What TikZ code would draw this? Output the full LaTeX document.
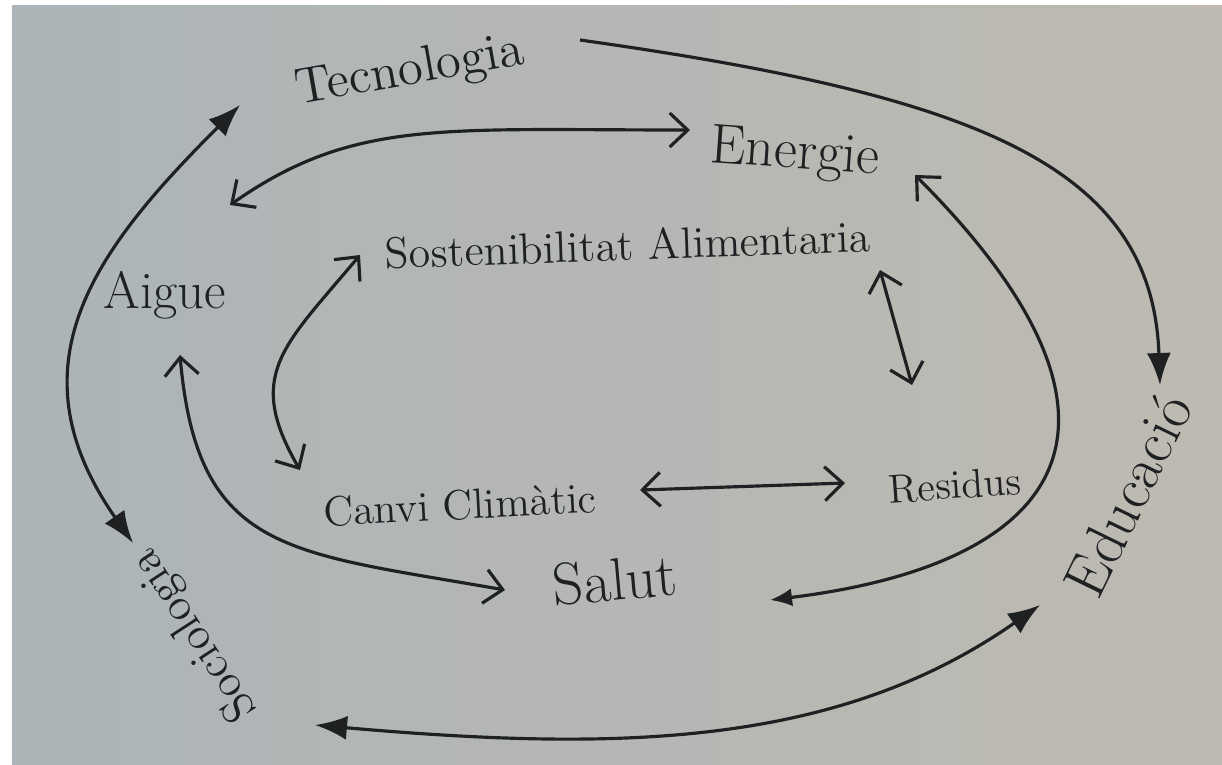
\documentclass[tikz,border=0pt]{standalone}
\usepackage{xcolor}
\usetikzlibrary{arrows.meta,positioning}
\definecolor{ink}{RGB}{30,32,34}
\definecolor{paperL}{RGB}{172,180,184}
\definecolor{paperM}{RGB}{204,206,207}
\definecolor{paperR}{RGB}{190,186,177}

\begin{document}
\begin{tikzpicture}[
  word/.style={text=ink,inner sep=2pt},
  ring/.style={draw=ink,line width=0.9pt},
  big/.style={ring,arrows={Latex[length=3.2mm,width=2.4mm]-Latex[length=3.2mm,width=2.4mm]}},
  small/.style={ring,arrows={Straight Barb[length=1.8mm,width=3.4mm]-Straight Barb[length=1.8mm,width=3.4mm]}}
]
\useasboundingbox (0,0) rectangle (12.22,-7.64);
% paper
\fill[white] (0,0) rectangle (12.22,-7.64);
\shade[left color=paperL,middle color=paperM,right color=paperR] (0.12,-0.05) rectangle (12.22,-7.64);

% words
\node[word,font=\fontsize{14.5}{16}\selectfont,rotate=10] (tecno) at (4.1,-0.72) {Tecnologia};
\node[word,font=\fontsize{16}{18}\selectfont,rotate=-4] (energie) at (7.95,-1.55) {Energie};
\node[word,font=\fontsize{12.5}{14}\selectfont,rotate=2] (sosten) at (6.28,-2.45) {Sostenibilitat Alimentaria};
\node[word,font=\fontsize{15}{17}\selectfont] (aigue) at (1.65,-2.95) {Aigue};
\node[word,font=\fontsize{12}{14}\selectfont,rotate=3] (canvi) at (4.6,-5.05) {Canvi Climàtic};
\node[word,font=\fontsize{11.5}{13}\selectfont,rotate=4] (residus) at (9.55,-4.85) {Residus};
\node[word,font=\fontsize{17}{19}\selectfont,rotate=5] (salut) at (6.15,-5.8) {Salut};
\node[word,font=\fontsize{17}{19}\selectfont,rotate=64] (educ) at (11.28,-4.95) {Educació};
\node[word,font=\fontsize{13}{15}\selectfont,rotate=123] (socio) at (1.95,-6.35) {Sociologia};

% outer ring
\draw[ring,arrows={-Latex[length=3.2mm,width=2.4mm]}] ([shift={(1.7,0.32)}]tecno.center)
  to[out=-8,in=92,out distance=4cm,in distance=2.2cm] ([shift={(0.32,1.1)}]educ.center);
\draw[big] ([shift={(-1.7,-0.33)}]tecno.center)
  to[out=225,in=125,out distance=2cm,in distance=2.2cm] ([shift={(-0.62,0.92)}]socio.center);
\draw[big] ([shift={(1.2,-0.9)}]socio.center)
  to[out=-5,in=215,out distance=3cm,in distance=2.5cm] ([shift={(-0.88,-1.1)}]educ.center);

% middle ring
\draw[small] ([shift={(0.65,0.9)}]aigue.center)
  to[out=35,in=180,out distance=1.5cm,in distance=2.5cm] ([shift={(-1.05,0.25)}]energie.center);
\draw[ring,arrows={Straight Barb[length=1.8mm,width=3.4mm]-Latex[length=2.2mm,width=1.8mm]}] ([shift={(1.2,-0.2)}]energie.center)
  to[out=-45,in=7,out distance=3.5cm,in distance=3cm] ([shift={(1.55,-0.2)}]salut.center);
\draw[small] ([shift={(0.15,-0.6)}]aigue.center)
  to[out=-85,in=170,out distance=2cm,in distance=2.2cm] ([shift={(-1.1,-0.1)}]salut.center);

% inner ring
\draw[small] ([shift={(-2.68,-0.1)}]sosten.center)
  to[out=230,in=120,out distance=1.2cm,in distance=1.1cm] ([shift={(-1.6,0.35)}]canvi.center);
\draw[small] ([shift={(2.52,-0.25)}]sosten.center) -- ([shift={(-0.43,1.0)}]residus.center);
\draw[small] ([shift={(1.8,0.15)}]canvi.center) -- ([shift={(-1.1,0.02)}]residus.center);
\end{tikzpicture}
\end{document}
